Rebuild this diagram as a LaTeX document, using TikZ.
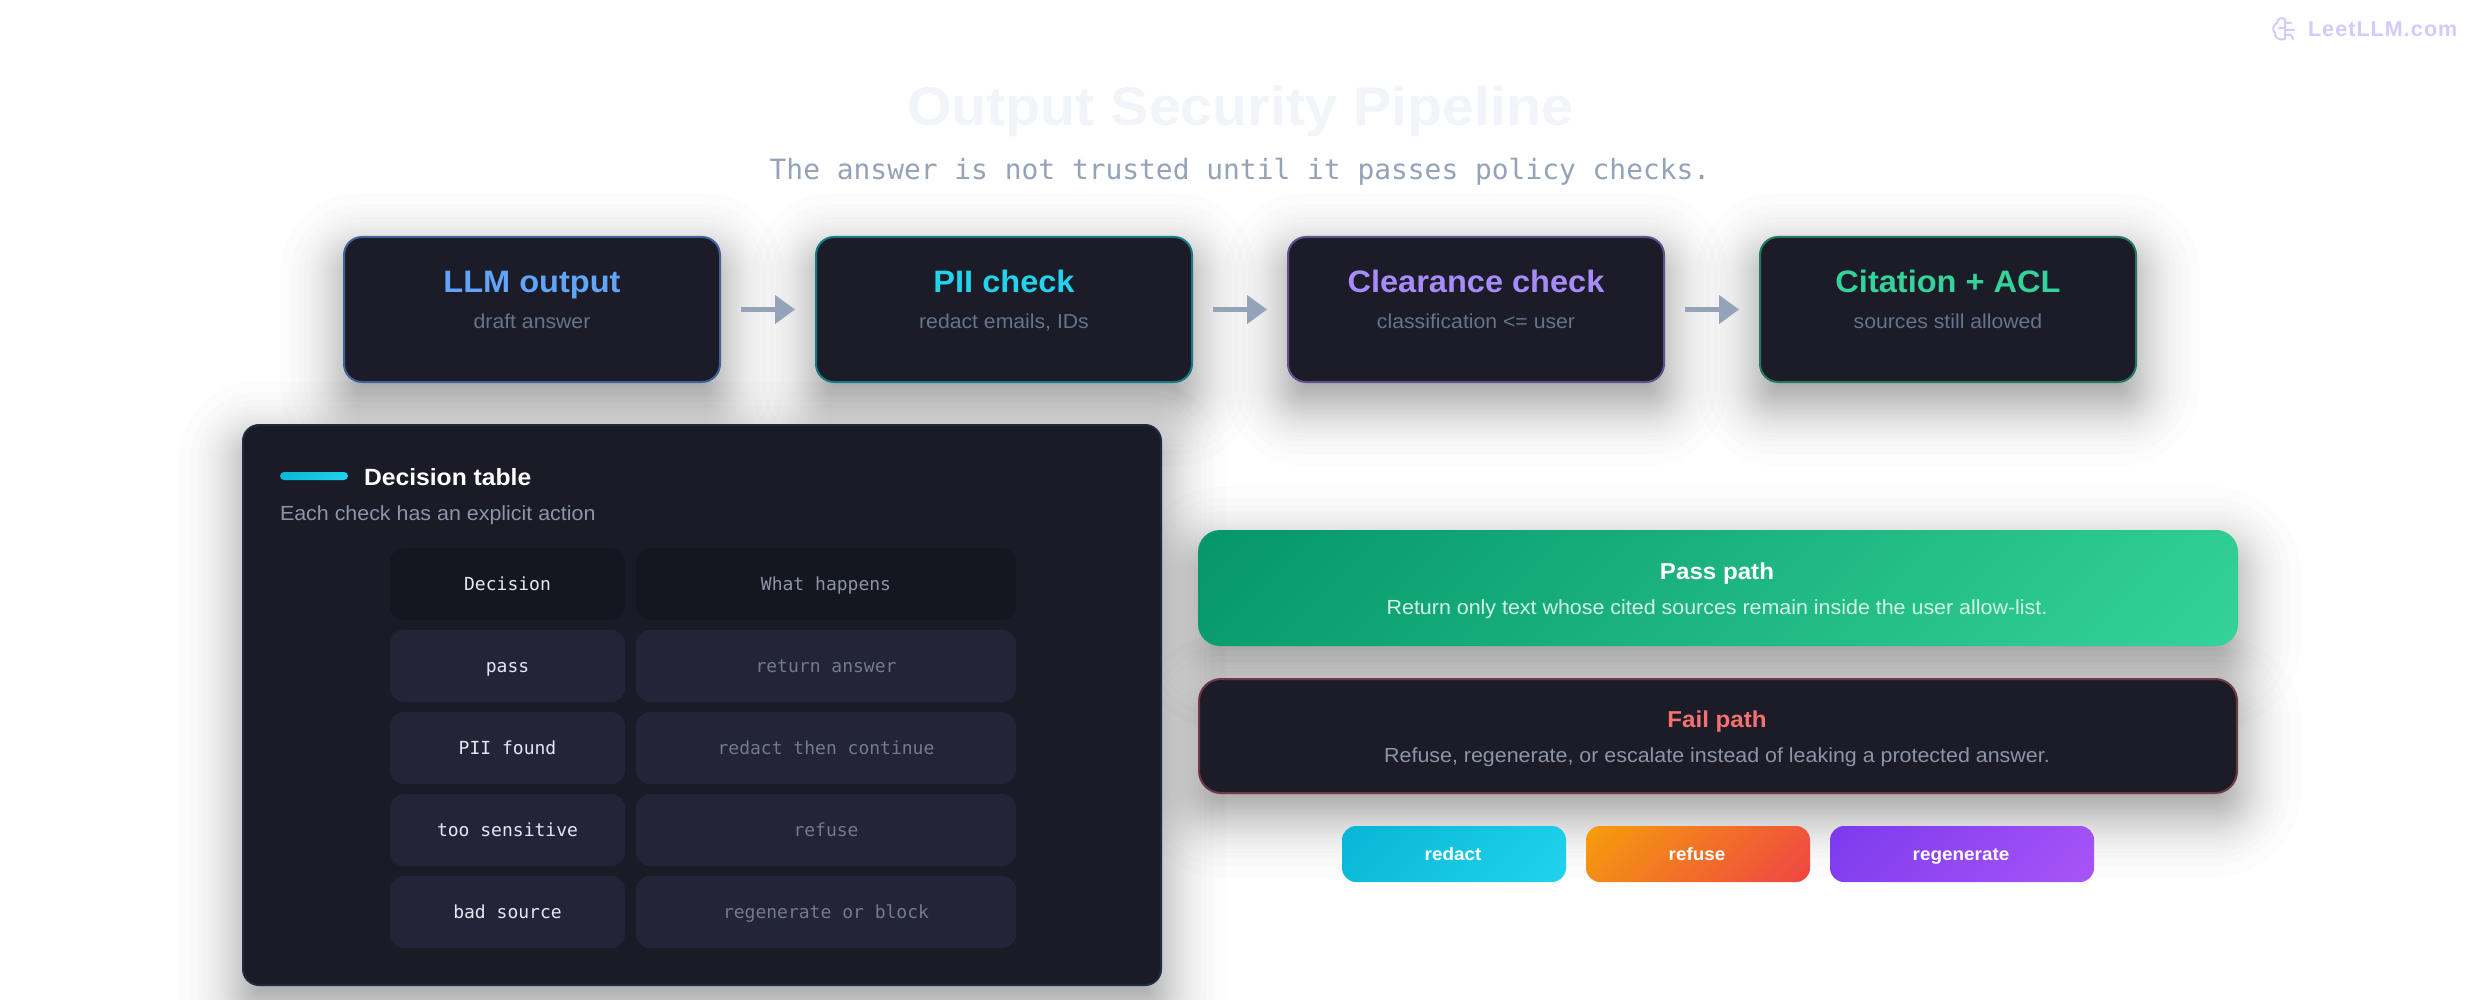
\documentclass[tikz,border=0pt]{standalone}
\usepackage{fontspec}
\usetikzlibrary{arrows.meta}
\setmainfont{Liberation Sans}[FakeStretch=1.05]
\newfontfamily\monof{DejaVu Sans Mono}
\newfontfamily\logof{Liberation Sans}[LetterSpace=5]
\newcommand{\fsz}[1]{\fontsize{#1}{#1}\selectfont}
\definecolor{cardbg}{HTML}{1B1C28}
\definecolor{panelbg}{HTML}{1A1B27}
\definecolor{panelline}{HTML}{1E2A3F}
\definecolor{hdrcell}{HTML}{151620}
\definecolor{rowcell}{HTML}{232438}
\definecolor{blueT}{HTML}{60A5FA}
\definecolor{cyanT}{HTML}{22D3EE}
\definecolor{violetT}{HTML}{A78BFA}
\definecolor{greenT}{HTML}{34D399}
\definecolor{redT}{HTML}{F87171}
\definecolor{blueL}{HTML}{41639B}
\definecolor{cyanL}{HTML}{167A87}
\definecolor{violetL}{HTML}{614F91}
\definecolor{greenL}{HTML}{247A5E}
\definecolor{redL}{HTML}{6E3A42}
\definecolor{titleC}{HTML}{F1F5F9}
\definecolor{subC}{HTML}{94A3B8}
\definecolor{dimC}{HTML}{64748B}
\definecolor{arrowC}{HTML}{94A3B8}
\definecolor{logoC}{HTML}{D6C9FD}
\definecolor{cellA}{HTML}{E2E8F0}
\definecolor{cellB}{HTML}{737A8C}
\definecolor{cellH}{HTML}{8D94A8}
\definecolor{passSub}{HTML}{D3F3E7}
\definecolor{passA}{HTML}{059669}
\definecolor{cyanA}{HTML}{06B6D4}
\definecolor{orangeA}{HTML}{F59E0B}
\definecolor{redA}{HTML}{EF4444}
\definecolor{violA}{HTML}{7C3AED}
\definecolor{violB}{HTML}{A855F7}
\newcommand{\softshadow}[7]{% x1 y1 x2 y2 radius dy sigma
  \foreach \z in {2.1,1.73,1.48,1.3,1.15,1.02,0.91,0.81,0.72,0.63,0.55,0.47,0.39,0.32,0.245,0.175,0.105,0.035,-0.035,-0.105,-0.175,-0.245,-0.32,-0.39,-0.47,-0.55,-0.63,-0.72,-0.81,-0.91,-1.02,-1.15,-1.3,-1.48,-1.73,-2.1}{
    \pgfmathsetmacro\dd{#7*\z}
    \pgfmathsetmacro\rr{max(#5+\dd,0.5)}
    \fill[black,opacity=0.012,rounded corners=\rr pt] (#1-\dd,#2-\dd+#6) rectangle (#3+\dd,#4+\dd+#6);
  }}
\newcommand{\cardnode}[9]{% name x1 y1 x2 y2 radius fill border width
  \node[draw=#8,fill=#7,line width=#9pt,rounded corners=#6pt,inner sep=0pt,outer sep=0pt,
    minimum width={(#4-#2-#9)*1pt},minimum height={(#5-#3-#9)*1pt}] (#1) at ({(#2+#4)/2},{(#3+#5)/2}) {};}
\newcommand{\gradbox}[8]{% name x1 y1 x2 y2 radius c1 c2
  \begin{scope}
    \pgfmathsetmacro\cx{(#2+#4)/2}
    \pgfmathsetmacro\cy{(#3+#5)/2}
    \pgfmathsetmacro\gl{((#4-#2)+(#5-#3))/sqrt(2)/2}
    \clip[rounded corners=#6pt] (#2,#3) rectangle (#4,#5);
    \begin{scope}[transform canvas={rotate around={-45:(\cx,\cy)}}]
      \shade[left color=#7,right color=#8] (\cx-\gl,\cy-\gl) rectangle (\cx+\gl,\cy+\gl);
    \end{scope}
  \end{scope}
  \node[inner sep=0pt,outer sep=0pt,minimum width={(#4-#2)*1pt},minimum height={(#5-#3)*1pt}] (#1) at ({(#2+#4)/2},{(#3+#5)/2}) {};}
\tikzset{
  txt/.style={anchor=base,inner sep=0pt,outer sep=0pt},
  cardtitle/.style={txt,font=\fsz{31}\bfseries},
  cardsub/.style={txt,font=\fsz{20.2},text=dimC},
  cell/.style={inner sep=0pt,outer sep=0pt,rounded corners=14pt,minimum height=72pt,text height=12pt,text depth=0pt},
  keycell/.style={cell,minimum width=235pt,fill=rowcell,text=cellA,font=\monof\fsz{18}},
  valcell/.style={cell,minimum width=380pt,fill=rowcell,text=cellB,font=\monof\fsz{18}},
  flowarrow/.style={draw=arrowC,line width=4.5pt,-{Triangle[length=20pt,width=28pt]},shorten <=21pt,shorten >=21pt},
}
\begin{document}
\begin{tikzpicture}[x=1pt,y=-1pt]
\useasboundingbox (0,0) rectangle (2480,1000);
\fill[white] (0,0) rectangle (2480,1000);

% watermark
\begin{scope}[draw=logoC,line width=2pt,line cap=round,line join=round]
  \draw (2285,19) .. controls (2281,17) and (2277,19) .. (2277,23)
        .. controls (2273,24) and (2272,31) .. (2275,33)
        .. controls (2274,37) and (2279,41) .. (2285,39) -- cycle;
  \draw (2279,28) -- (2285,28) (2285,23) -- (2291,23) (2285,30) -- (2294,30) (2285,35) -- (2291,35) -- (2293,39);
\end{scope}
\node[txt,anchor=base west,text=logoC,font=\logof\fsz{21.5}\bfseries] (logo) at (2308,37) {LeetLLM.com};

% title
\node[txt,text=titleC,font=\fsz{54.6}\bfseries] (title) at (1240,126) {Output Security Pipeline};
\node[txt,text=subC,font=\monof\fsz{27.9}] (subtitle) at (1240,180) {The answer is not trusted until it passes policy checks.};

% shadows
\softshadow{343}{236}{721}{383}{18}{20}{30}
\softshadow{815}{236}{1193}{383}{18}{20}{30}
\softshadow{1287}{236}{1665}{383}{18}{20}{30}
\softshadow{1759}{236}{2137}{383}{18}{20}{30}
\softshadow{242}{424}{1162}{986}{16}{20}{30}
\softshadow{1198}{530}{2238}{646}{24}{20}{30}
\softshadow{1198}{678}{2238}{794}{24}{20}{30}

% pipeline
\cardnode{llm}{343}{236}{721}{383}{18}{cardbg}{blueL}{2}
\cardnode{pii}{815}{236}{1193}{383}{18}{cardbg}{cyanL}{2}
\cardnode{clear}{1287}{236}{1665}{383}{18}{cardbg}{violetL}{2}
\cardnode{cite}{1759}{236}{2137}{383}{18}{cardbg}{greenL}{2}
\node[cardtitle,text=blueT] (llmT) at (532,292) {LLM output};
\node[cardsub] (llmS) at (532,328) {draft answer};
\node[cardtitle,text=cyanT] (piiT) at (1004,292) {PII check};
\node[cardsub] (piiS) at (1004,328) {redact emails, IDs};
\node[cardtitle,text=violetT] (clearT) at (1476,292) {Clearance check};
\node[cardsub] (clearS) at (1476,328) {classification <= user};
\node[cardtitle,text=greenT] (citeT) at (1948,292) {Citation + ACL};
\node[cardsub] (citeS) at (1948,328) {sources still allowed};
\draw[flowarrow] (llm) -- (pii);
\draw[flowarrow] (pii) -- (clear);
\draw[flowarrow] (clear) -- (cite);

% decision panel
\cardnode{panel}{242}{424}{1162}{986}{16}{panelbg}{panelline}{2}
\gradbox{bar}{280}{472}{348}{480}{4}{cyanA}{cyanT}
\node[txt,anchor=base west,text=white,font=\fsz{23.5}\bfseries] (panelT) at (364,485) {Decision table};
\node[txt,anchor=base west,text=cellH,font=\fsz{20.4}] (panelS) at (280,520) {Each check has an explicit action};

\node[keycell,fill=hdrcell] (k0) at (507.5,584) {Decision};
\node[valcell,fill=hdrcell,text=cellH] (v0) at (826,584) {What happens};
\node[keycell] (k1) at (507.5,666) {pass};
\node[valcell] (v1) at (826,666) {return answer};
\node[keycell] (k2) at (507.5,748) {PII found};
\node[valcell] (v2) at (826,748) {redact then continue};
\node[keycell] (k3) at (507.5,830) {too sensitive};
\node[valcell] (v3) at (826,830) {refuse};
\node[keycell] (k4) at (507.5,912) {bad source};
\node[valcell] (v4) at (826,912) {regenerate or block};

% paths
\gradbox{pass}{1198}{530}{2238}{646}{22}{passA}{greenT}
\node[txt,text=white,font=\fsz{23}\bfseries] (passT) at (1717,579) {Pass path};
\node[txt,text=passSub,font=\fsz{20.4}] (passS) at (1717,614) {Return only text whose cited sources remain inside the user allow-list.};
\cardnode{fail}{1198}{678}{2238}{794}{22}{cardbg}{redL}{2}
\node[txt,text=redT,font=\fsz{23}\bfseries] (failT) at (1717,727) {Fail path};
\node[txt,text=cellH,font=\fsz{20.4}] (failS) at (1717,762) {Refuse, regenerate, or escalate instead of leaking a protected answer.};

% pills
\gradbox{redact}{1342}{826}{1566}{882}{14}{cyanA}{cyanT}
\gradbox{refuse}{1586}{826}{1810}{882}{14}{orangeA}{redA}
\gradbox{regen}{1830}{826}{2094}{882}{14}{violA}{violB}
\node[txt,text=white,font=\fsz{18}\bfseries] (redactT) at (1453,860) {redact};
\node[txt,text=white,font=\fsz{18}\bfseries] (refuseT) at (1697,860) {refuse};
\node[txt,text=white,font=\fsz{18}\bfseries] (regenT) at (1961,860) {regenerate};
\end{tikzpicture}
\end{document}
